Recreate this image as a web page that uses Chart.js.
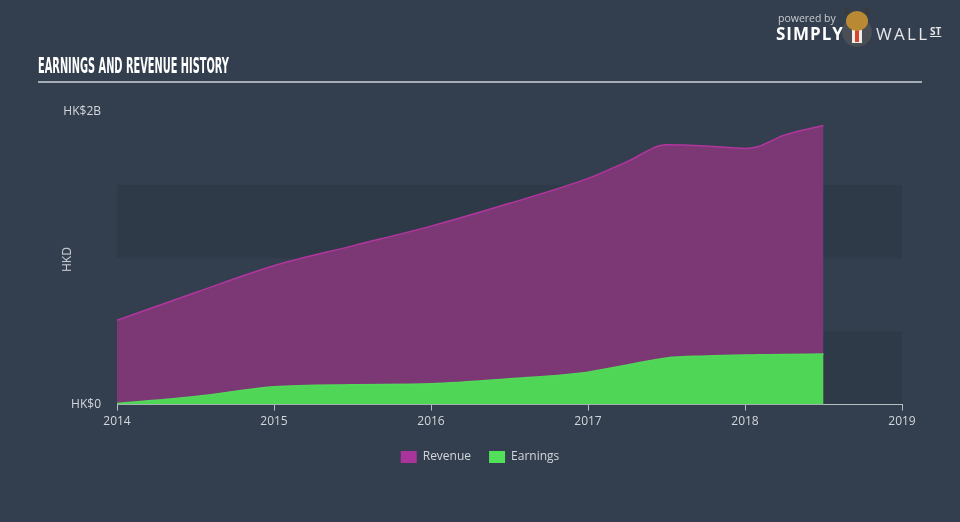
<!DOCTYPE html>
<html>
<head>
<meta charset="utf-8">
<script src="https://cdn.jsdelivr.net/npm/chart.js@4.4.1/dist/chart.umd.min.js"></script>
<style>
  html, body { margin: 0; padding: 0; }
  body { width: 960px; height: 522px; background: #333f4f; position: relative; overflow: hidden; font-family: "Open Sans", sans-serif; }
  #chart { position: absolute; left: 0; top: 0; }
  .title { position: absolute; left: 38px; top: 54px; color: #fff; font-family: "Liberation Sans Narrow", "DejaVu Sans Condensed", sans-serif; font-weight: bold; font-size: 21px; transform: scaleX(0.52); transform-origin: left top; white-space: nowrap; }
  .rule { position: absolute; left: 38px; top: 81px; width: 884px; height: 2px; background: #a7adb6; }
  .ylabel { position: absolute; left: 54px; top: 251px; color: #cfd3d9; font-size: 12px; transform: rotate(-90deg); transform-origin: center; }
  .powered { position: absolute; left: 778px; top: 11px; color: #c9ccd1; font-size: 10.5px; }
  .simply { position: absolute; left: 776px; top: 22px; color: #fff; font-weight: bold; font-size: 17px; letter-spacing: 1px; }
  .suit { position: absolute; left: 842px; top: 17px; width: 30px; height: 30px; border-radius: 50%; background: #4a4e55; }
  .shirt { position: absolute; left: 852px; top: 29px; width: 10px; height: 14px; background: #eeeeee; }
  .tie { position: absolute; left: 855px; top: 30px; width: 4px; height: 12px; background: #d9452b; }
  .head { position: absolute; left: 846px; top: 11px; width: 22px; height: 20px; border-radius: 50%; background: #b98a33; }
  .horn1, .horn2 { position: absolute; top: 8px; width: 4px; height: 7px; background: #3a3a3a; border-radius: 2px; }
  .horn1 { left: 845px; } .horn2 { left: 865px; }
  .wall { position: absolute; left: 876px; top: 22px; color: #e6e6e6; font-size: 17px; letter-spacing: 2.3px; }
  .st { position: absolute; left: 930px; top: 24px; color: #e6e6e6; font-size: 10px; font-weight: bold; text-decoration: underline; }
</style>
</head>
<body>
<canvas id="chart" width="960" height="522"></canvas>
<div class="title">EARNINGS AND REVENUE HISTORY</div>
<div class="rule"></div>
<div class="ylabel">HKD</div>
<div class="powered">powered by</div>
<div class="simply">SIMPLY</div>
<div class="suit"></div>
<div class="shirt"></div>
<div class="tie"></div>
<div class="horn1"></div>
<div class="horn2"></div>
<div class="head"></div>
<div class="wall">WALL</div>
<div class="st">ST</div>
<script>
// time in decimal years, values in HK$ millions
const dates = [2014.0, 2014.5, 2015.0, 2015.5, 2016.0, 2016.5, 2017.0, 2017.25, 2017.5, 2017.75, 2018.0, 2018.08, 2018.25, 2018.5];
const revenue = [576, 766, 949, 1085, 1220, 1376, 1546, 1661, 1776, 1768, 1751, 1763, 1842, 1908];
const earnings = [7, 55, 122, 136, 142, 176, 222, 271, 319, 332, 339, 340, 342, 346];
const yearTicks = [2014, 2015, 2016, 2017, 2018, 2019];
const yTickLabels = {0: 'HK$0', 2000: 'HK$2B'};

const bandPlugin = {
    id: 'bands',
    beforeDraw(chart) {
        const ctx = chart.ctx;
        const x = chart.scales.x;
        const y = chart.scales.y;
        ctx.save();
        ctx.fillStyle = '#2e3a48';
        [[0, 500], [1000, 1500]].forEach(b => {
            const top = y.getPixelForValue(b[1]);
            const bottom = y.getPixelForValue(b[0]);
            ctx.fillRect(x.left, top, x.right - x.left, bottom - top);
        });
        ctx.restore();
    }
};

new Chart(document.getElementById('chart'), {
    type: 'line',
    data: {
        datasets: [
            {
                label: 'Revenue',
                data: dates.map((d, i) => ({x: d, y: revenue[i]})),
                borderColor: '#b3359e',
                backgroundColor: '#7b3874',
                borderWidth: 1.5,
                fill: 'origin',
                pointRadius: 0,
                cubicInterpolationMode: 'monotone',
                order: 2
            },
            {
                label: 'Earnings',
                data: dates.map((d, i) => ({x: d, y: earnings[i]})),
                borderColor: '#53d85a',
                backgroundColor: '#50d656',
                borderWidth: 1.5,
                fill: 'origin',
                pointRadius: 0,
                cubicInterpolationMode: 'monotone',
                order: 1
            }
        ]
    },
    options: {
        responsive: false,
        animation: false,
        layout: { padding: { left: 0, right: 0, top: 112, bottom: 49 } },
        plugins: {
            tooltip: { enabled: false },
            legend: {
                position: 'bottom',
                labels: {
                    color: '#d3d6db',
                    font: { family: 'Open Sans', size: 12 },
                    boxWidth: 16,
                    boxHeight: 12,
                    padding: 18,
                    sort: (a, b) => a.datasetIndex - b.datasetIndex,
                    generateLabels: chart => chart.data.datasets.map((ds, i) => ({
                        text: ds.label,
                        fillStyle: i == 0 ? '#a9349b' : '#52e05a',
                        strokeStyle: 'transparent',
                        lineWidth: 0,
                        fontColor: '#d3d6db',
                        datasetIndex: i
                    }))
                }
            }
        },
        scales: {
            x: {
                type: 'linear',
                min: 2014,
                max: 2019,
                afterBuildTicks: scale => { scale.ticks = yearTicks.map(v => ({value: v})); },
                grid: { display: true, drawOnChartArea: false, drawTicks: true, tickLength: 6, color: '#b9bec6' },
                border: { display: true, color: '#b9bec6', width: 1 },
                ticks: {
                    color: '#d3d6db',
                    font: { family: 'Open Sans', size: 12 },
                    padding: 4,
                    maxRotation: 0,
                    callback: v => String(v)
                }
            },
            y: {
                min: 0,
                max: 2000,
                afterBuildTicks: scale => { scale.ticks = [{value: 0}, {value: 2000}]; },
                afterFit: scale => { scale.width = 117; },
                grid: { display: false },
                border: { display: false },
                ticks: {
                    color: '#d3d6db',
                    font: { family: 'Open Sans', size: 12 },
                    padding: 8,
                    callback: v => yTickLabels[v]
                }
            },
            y2: {
                position: 'right',
                min: 0,
                max: 2000,
                afterFit: scale => { scale.width = 58; },
                grid: { display: false },
                border: { display: false },
                ticks: { display: false }
            }
        }
    },
    plugins: [bandPlugin]
});
</script>
</body>
</html>
